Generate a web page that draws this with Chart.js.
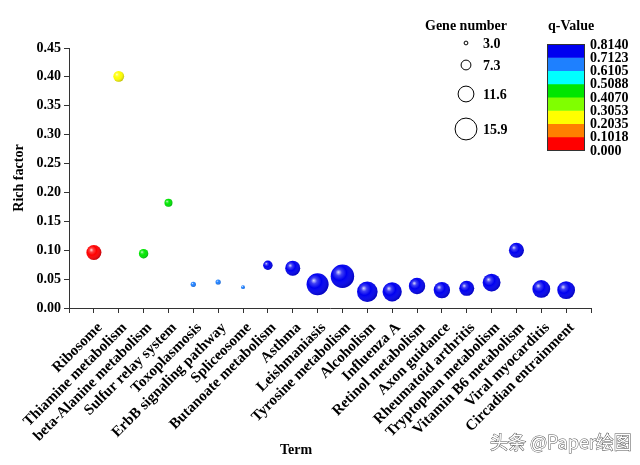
<!DOCTYPE html>
<html>
<head>
<meta charset="utf-8">
<script src="https://cdn.jsdelivr.net/npm/chart.js@4/dist/chart.umd.min.js"></script>
<style>
  html, body { margin: 0; padding: 0; background: #fff; }
  #wrap { width: 640px; height: 465px; position: relative; }
</style>
</head>
<body>
<div id="wrap"><canvas id="c" width="640" height="465"></canvas></div>
<script>
// ---- data ----
const terms = ["Ribosome", "Thiamine metabolism", "beta-Alanine metabolism", "Sulfur relay system",
  "Toxoplasmosis", "ErbB signaling pathway", "Spliceosome", "Butanoate metabolism", "Asthma",
  "Leishmaniasis", "Tyrosine metabolism", "Alcoholism", "Influenza A", "Retinol metabolism",
  "Axon guidance", "Rheumatoid arthritis", "Tryptophan metabolism", "Vitamin B6 metabolism",
  "Viral myocarditis", "Circadian entrainment"];
const richFactor = [0.096, 0.401, 0.094, 0.182, 0.041, 0.045, 0.036, 0.074, 0.069, 0.041,
  0.055, 0.028, 0.028, 0.038, 0.031, 0.034, 0.044, 0.100, 0.033, 0.031];
const geneNumber = [11, 8, 7, 6, 4, 4, 3, 7, 11, 16, 17, 15, 14, 12, 12, 11, 13, 11, 13, 13];
const qValue = [0.05, 0.25, 0.45, 0.45, 0.66, 0.66, 0.66, 0.78, 0.78, 0.78,
  0.78, 0.78, 0.78, 0.78, 0.78, 0.78, 0.78, 0.78, 0.78, 0.78];
const geneLegend = [3.0, 7.3, 11.6, 15.9];
const qBreaks = [0.000, 0.1018, 0.2035, 0.3053, 0.4070, 0.5088, 0.6105, 0.7123, 0.8140];
const qBreakLabels = ["0.000", "0.1018", "0.2035", "0.3053", "0.4070", "0.5088", "0.6105", "0.7123", "0.8140"];
const yTicks = [0, 0.05, 0.10, 0.15, 0.20, 0.25, 0.30, 0.35, 0.40, 0.45];

// ---- styles ----
const bandColors = ["#ff0000", "#ff8000", "#ffff00", "#80ff00", "#00e600", "#00ffff", "#1e80ff", "#0000f0"];
const SERIF = "'Liberation Serif', 'Times New Roman', serif";
function radiusOf(g) { return 0.7 * g - 0.2; }
function colorOf(q) {
  for (let i = 0; i < bandColors.length; i++) {
    if (q >= qBreaks[i] && q < qBreaks[i + 1]) return bandColors[i];
  }
  return bandColors[bandColors.length - 1];
}

const points = terms.map((t, i) => ({ x: i, y: richFactor[i], r: radiusOf(geneNumber[i]) }));
const colors = qValue.map(colorOf);

const shading = {
  id: 'shading',
  afterDatasetsDraw(chart) {
    const ctx = chart.ctx;
    chart.getDatasetMeta(0).data.forEach((el) => {
      const r = el.options.radius;
      const g = ctx.createRadialGradient(el.x - 0.35 * r, el.y - 0.35 * r, 0, el.x - 0.2 * r, el.y - 0.2 * r, r * 1.25);
      g.addColorStop(0, 'rgba(255,255,255,0.85)');
      g.addColorStop(0.22, 'rgba(255,255,255,0.25)');
      g.addColorStop(0.5, 'rgba(255,255,255,0)');
      g.addColorStop(1, 'rgba(0,0,40,0.25)');
      ctx.save();
      ctx.beginPath();
      ctx.arc(el.x, el.y, r, 0, Math.PI * 2);
      ctx.fillStyle = g;
      ctx.fill();
      ctx.restore();
    });
  }
};

const extras = {
  id: 'extras',
  afterDraw(chart) {
    const ctx = chart.ctx;
    const ca = chart.chartArea;
    ctx.save();
    ctx.fillStyle = '#000';
    ctx.font = 'bold 14px ' + SERIF;
    // axis titles
    ctx.textAlign = 'center';
    ctx.textBaseline = 'middle';
    ctx.fillText('Term', 296, 450);
    ctx.save();
    ctx.translate(19, (ca.top + ca.bottom) / 2);
    ctx.rotate(-Math.PI / 2);
    ctx.fillText('Rich factor', 0, 0);
    ctx.restore();

    // gene number legend
    ctx.textAlign = 'left';
    ctx.fillText('Gene number', 425, 26);
    const ys = [43, 65, 94, 129];
    geneLegend.forEach((g, i) => {
      ctx.beginPath();
      ctx.arc(466, ys[i], radiusOf(g), 0, Math.PI * 2);
      ctx.strokeStyle = '#000';
      ctx.lineWidth = 1;
      ctx.stroke();
      ctx.fillText(g.toFixed(1), 483, ys[i] + 1);
    });

    // q-value colorbar
    ctx.fillText('q-Value', 548, 26);
    const top = 44, bot = 150, x0 = 547, x1 = 584;
    const h = (bot - top) / bandColors.length;
    bandColors.forEach((c, i) => {
      ctx.fillStyle = c;
      ctx.fillRect(x0, bot - (i + 1) * h, x1 - x0, h + 0.5);
    });
    ctx.strokeStyle = '#333';
    ctx.strokeRect(x0 + 0.5, top + 0.5, x1 - x0, bot - top);
    ctx.fillStyle = '#000';
    qBreakLabels.forEach((lab, i) => {
      ctx.fillText(lab, 590, bot - i * h + 1);
    });

    // watermark
    ctx.font = '18px "Noto Sans CJK SC", sans-serif';
    ctx.textAlign = 'left';
    ctx.lineWidth = 1;
    ctx.strokeStyle = '#555';
    ctx.fillStyle = '#fff';
    ctx.strokeText('头条 @Paper绘图', 490, 442);
    ctx.fillText('头条 @Paper绘图', 490, 442);
    ctx.restore();
  }
};

new Chart(document.getElementById('c'), {
  type: 'bubble',
  data: {
    datasets: [{
      data: points,
      backgroundColor: colors,
      borderWidth: 0,
      hoverBorderWidth: 0
    }]
  },
  options: {
    responsive: false,
    animation: false,
    events: [],
    layout: { padding: { top: 48, right: 49, left: 0, bottom: 0 } },
    plugins: { legend: { display: false }, tooltip: { enabled: false } },
    scales: {
      x: {
        type: 'linear',
        min: -1,
        max: 20,
        afterFit(s) { s.height = 157; },
        afterBuildTicks(s) { s.ticks = Array.from({ length: 22 }, (_, i) => ({ value: i - 1 })); },
        ticks: {
          autoSkip: false,
          maxRotation: 45,
          minRotation: 45,
          padding: 6,
          labelOffset: 6,
          color: '#000',
          font: { family: SERIF, size: 15, weight: 'bold' },
          callback: (v) => (v >= 0 && v < terms.length ? terms[v] : '')
        },
        grid: { drawOnChartArea: false, drawTicks: true, tickLength: 5, color: '#333' },
        border: { display: true, color: '#333', width: 1 }
      },
      y: {
        min: 0,
        max: 0.45,
        afterFit(s) { s.width = 69; },
        afterBuildTicks(s) { s.ticks = yTicks.map(v => ({ value: v })); },
        ticks: {
          padding: 3,
          color: '#000',
          font: { family: SERIF, size: 14, weight: 'bold' },
          callback: (v) => v.toFixed(2)
        },
        grid: { drawOnChartArea: false, drawTicks: true, tickLength: 5, color: '#333' },
        border: { display: true, color: '#333', width: 1 }
      }
    }
  },
  plugins: [shading, extras]
});
</script>
</body>
</html>
